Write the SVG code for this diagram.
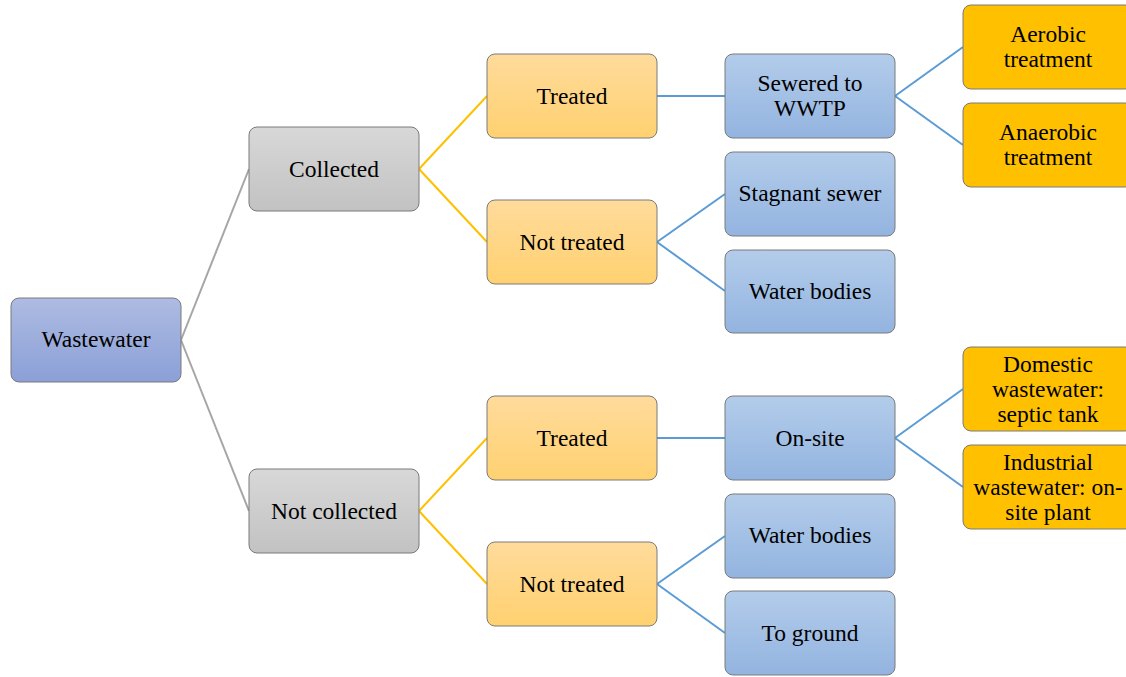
<svg xmlns="http://www.w3.org/2000/svg" width="1126" height="677" viewBox="0 0 1126 677">
<defs>
<linearGradient id="gPurple" x1="0" y1="0" x2="0" y2="1"><stop offset="0" stop-color="#AEBBE2"/><stop offset="1" stop-color="#8BA0D7"/></linearGradient>
<linearGradient id="gGray" x1="0" y1="0" x2="0" y2="1"><stop offset="0" stop-color="#D8D8D8"/><stop offset="1" stop-color="#C2C2C2"/></linearGradient>
<linearGradient id="gPeach" x1="0" y1="0" x2="0" y2="1"><stop offset="0" stop-color="#FFDB9C"/><stop offset="1" stop-color="#FFD170"/></linearGradient>
<linearGradient id="gBlue" x1="0" y1="0" x2="0" y2="1"><stop offset="0" stop-color="#B3CCEA"/><stop offset="1" stop-color="#93B4E0"/></linearGradient>
</defs>
<style>
.box{stroke:#7A7A7A;stroke-width:1}
.p{fill:url(#gPurple)}
.g{fill:url(#gGray)}
.y{fill:url(#gPeach)}
.b{fill:url(#gBlue)}
.o{fill:#FFC000}
text{font-family:"Liberation Serif","Times New Roman",serif;font-size:23.5px;fill:#000;text-anchor:middle}
.cg{stroke:#A6A6A6;stroke-width:2;fill:none}
.cy{stroke:#FFC000;stroke-width:2;fill:none}
.cb{stroke:#5B9BD5;stroke-width:2;fill:none}
</style>
<g id="connectors">
<line class="cg" x1="181" y1="340" x2="249" y2="169"/>
<line class="cg" x1="181" y1="340" x2="249" y2="511"/>
<line class="cy" x1="419" y1="169" x2="487" y2="96"/>
<line class="cy" x1="419" y1="169" x2="487" y2="242"/>
<line class="cy" x1="419" y1="511" x2="487" y2="438"/>
<line class="cy" x1="419" y1="511" x2="487" y2="584"/>
<line class="cb" x1="657" y1="96" x2="725" y2="96"/>
<line class="cb" x1="657" y1="242" x2="725" y2="194"/>
<line class="cb" x1="657" y1="242" x2="725" y2="291"/>
<line class="cb" x1="657" y1="438" x2="725" y2="438"/>
<line class="cb" x1="657" y1="584" x2="725" y2="536"/>
<line class="cb" x1="657" y1="584" x2="725" y2="633"/>
<line class="cb" x1="895" y1="96" x2="963" y2="47"/>
<line class="cb" x1="895" y1="96" x2="963" y2="145"/>
<line class="cb" x1="895" y1="438" x2="963" y2="389"/>
<line class="cb" x1="895" y1="438" x2="963" y2="487"/>
</g>
<g id="wastewater"><rect class="box p" x="11" y="298" width="170" height="84" rx="8"/><text x="96" y="347">Wastewater</text></g>
<g id="collected"><rect class="box g" x="249" y="127" width="170" height="84" rx="8"/><text x="334" y="177">Collected</text></g>
<g id="not-collected"><rect class="box g" x="249" y="469" width="170" height="84" rx="8"/><text x="334" y="519">Not collected</text></g>
<g id="treated-1"><rect class="box y" x="487" y="54" width="170" height="84" rx="8"/><text x="572" y="104">Treated</text></g>
<g id="not-treated-1"><rect class="box y" x="487" y="200" width="170" height="84" rx="8"/><text x="572" y="250">Not treated</text></g>
<g id="treated-2"><rect class="box y" x="487" y="396" width="170" height="84" rx="8"/><text x="572" y="446">Treated</text></g>
<g id="not-treated-2"><rect class="box y" x="487" y="542" width="170" height="84" rx="8"/><text x="572" y="592">Not treated</text></g>
<g id="sewered"><rect class="box b" x="725" y="54" width="170" height="84" rx="8"/><text x="810" y="91">Sewered to</text><text x="810" y="116">WWTP</text></g>
<g id="stagnant"><rect class="box b" x="725" y="152" width="170" height="84" rx="8"/><text x="810" y="201">Stagnant sewer</text></g>
<g id="water-bodies-1"><rect class="box b" x="725" y="250" width="170" height="83" rx="8"/><text x="810" y="299">Water bodies</text></g>
<g id="on-site"><rect class="box b" x="725" y="396" width="170" height="84" rx="8"/><text x="810" y="446">On-site</text></g>
<g id="water-bodies-2"><rect class="box b" x="725" y="494" width="170" height="84" rx="8"/><text x="810" y="543">Water bodies</text></g>
<g id="to-ground"><rect class="box b" x="725" y="591" width="170" height="84" rx="8"/><text x="810" y="641">To ground</text></g>
<g id="aerobic"><rect class="box o" x="963" y="5" width="170" height="84" rx="8"/><text x="1048" y="42">Aerobic</text><text x="1048" y="67">treatment</text></g>
<g id="anaerobic"><rect class="box o" x="963" y="103" width="170" height="84" rx="8"/><text x="1048" y="140">Anaerobic</text><text x="1048" y="165">treatment</text></g>
<g id="domestic"><rect class="box o" x="963" y="347" width="170" height="84" rx="8"/><text x="1048" y="372">Domestic</text><text x="1048" y="397">wastewater:</text><text x="1048" y="422">septic tank</text></g>
<g id="industrial"><rect class="box o" x="963" y="445" width="170" height="84" rx="8"/><text x="1048" y="470">Industrial</text><text x="1048" y="495">wastewater: on-</text><text x="1048" y="520">site plant</text></g>
</svg>
